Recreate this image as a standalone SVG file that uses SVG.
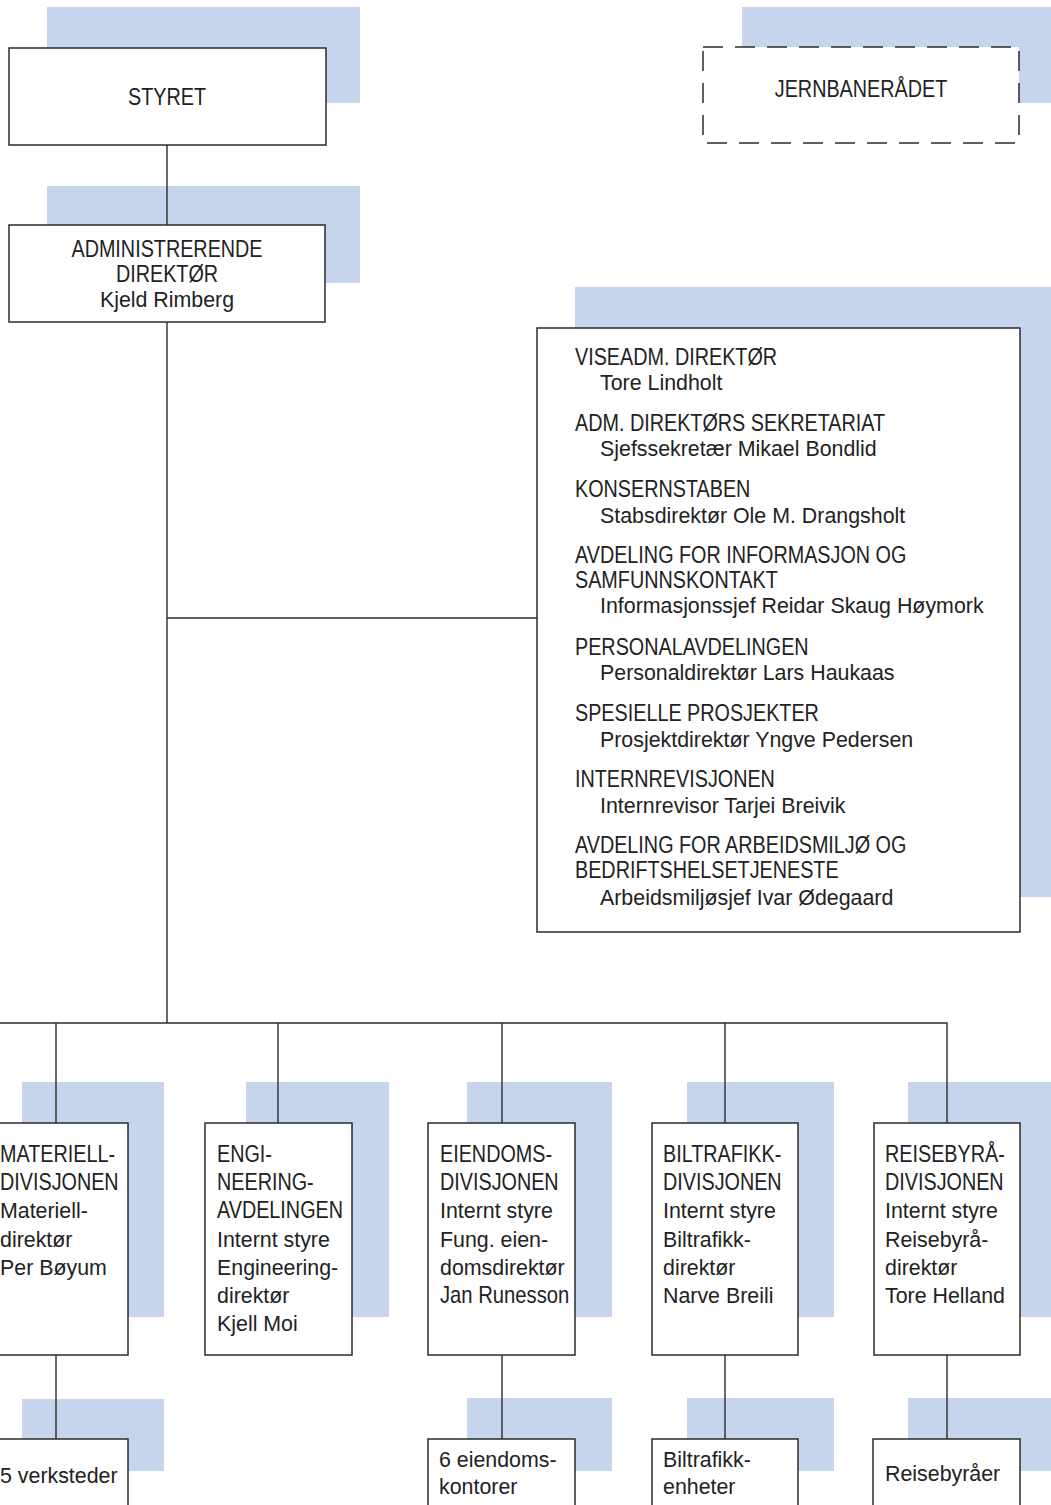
<svg xmlns="http://www.w3.org/2000/svg" width="1051" height="1505" viewBox="0 0 1051 1505">
<style>
.sh{fill:#c7d5ec}
.bx{fill:#fff;stroke:#2b2b2b;stroke-width:1.5}
.dash{fill:#fff;stroke:#2b2b2b;stroke-width:1.5;stroke-dasharray:20 12}
.t{font-family:"Liberation Sans",Arial,sans-serif;font-size:23px;fill:#222}
.m{text-anchor:middle}
.cn{stroke:#2b2b2b;stroke-width:1.4;fill:none}
</style>
<rect x="0" y="0" width="1051" height="1505" fill="#ffffff"/>
<g id="shadows">
<rect class="sh" x="47" y="7" width="313" height="96"/>
<rect class="sh" x="742" y="7" width="309" height="96"/>
<rect class="sh" x="47" y="186" width="313" height="97"/>
<rect class="sh" x="575" y="287" width="476" height="610"/>
<rect class="sh" x="22" y="1082" width="142" height="235"/>
<rect class="sh" x="246" y="1082" width="143" height="235"/>
<rect class="sh" x="467" y="1082" width="145" height="235"/>
<rect class="sh" x="687" y="1082" width="147" height="235"/>
<rect class="sh" x="908" y="1082" width="143" height="235"/>
<rect class="sh" x="22" y="1399" width="142" height="72"/>
<rect class="sh" x="467" y="1398" width="145" height="73"/>
<rect class="sh" x="687" y="1398" width="147" height="73"/>
<rect class="sh" x="908" y="1398" width="143" height="73"/>
</g>
<g id="styret">
<rect class="bx" x="9" y="48" width="317" height="97"/>
<text class="t m" transform="matrix(0.86 0 0 1 167 105)">STYRET</text>
</g>
<g id="jernbaneradet">
<rect class="dash" x="703" y="47" width="316" height="96"/>
<text class="t m" transform="matrix(0.86 0 0 1 861 97)">JERNBANERÅDET</text>
</g>
<g id="adm-dir">
<rect class="bx" x="9" y="225" width="316" height="97"/>
<text class="t m" transform="matrix(0.86 0 0 1 167 257)">ADMINISTRERENDE</text>
<text class="t m" transform="matrix(0.86 0 0 1 167 282)">DIREKTØR</text>
<text class="t m" transform="matrix(0.93 0 0 1 167 307)">Kjeld Rimberg</text>
</g>
<g id="stab">
<rect class="bx" x="537" y="328" width="483" height="604"/>
<text class="t" transform="matrix(0.86 0 0 1 575 365)">VISEADM. DIREKTØR</text>
<text class="t" transform="matrix(0.93 0 0 1 600 390)">Tore Lindholt</text>
<text class="t" transform="matrix(0.86 0 0 1 575 431)">ADM. DIREKTØRS SEKRETARIAT</text>
<text class="t" transform="matrix(0.93 0 0 1 600 456)">Sjefssekretær Mikael Bondlid</text>
<text class="t" transform="matrix(0.86 0 0 1 575 497)">KONSERNSTABEN</text>
<text class="t" transform="matrix(0.93 0 0 1 600 523)">Stabsdirektør Ole M. Drangsholt</text>
<text class="t" transform="matrix(0.86 0 0 1 575 563)">AVDELING FOR INFORMASJON OG</text>
<text class="t" transform="matrix(0.86 0 0 1 575 588)">SAMFUNNSKONTAKT</text>
<text class="t" transform="matrix(0.93 0 0 1 600 613)">Informasjonssjef Reidar Skaug Høymork</text>
<text class="t" transform="matrix(0.86 0 0 1 575 655)">PERSONALAVDELINGEN</text>
<text class="t" transform="matrix(0.93 0 0 1 600 680)">Personaldirektør Lars Haukaas</text>
<text class="t" transform="matrix(0.86 0 0 1 575 721)">SPESIELLE PROSJEKTER</text>
<text class="t" transform="matrix(0.93 0 0 1 600 747)">Prosjektdirektør Yngve Pedersen</text>
<text class="t" transform="matrix(0.86 0 0 1 575 787)">INTERNREVISJONEN</text>
<text class="t" transform="matrix(0.93 0 0 1 600 813)">Internrevisor Tarjei Breivik</text>
<text class="t" transform="matrix(0.86 0 0 1 575 853)">AVDELING FOR ARBEIDSMILJØ OG</text>
<text class="t" transform="matrix(0.86 0 0 1 575 878)">BEDRIFTSHELSETJENESTE</text>
<text class="t" transform="matrix(0.93 0 0 1 600 905)">Arbeidsmiljøsjef Ivar Ødegaard</text>
</g>
<g id="materiell">
<rect class="bx" x="-19" y="1123" width="147" height="232"/>
<text class="t" transform="matrix(0.86 0 0 1 0 1162)">MATERIELL-</text>
<text class="t" transform="matrix(0.86 0 0 1 0 1190)">DIVISJONEN</text>
<text class="t" transform="matrix(0.93 0 0 1 0 1218)">Materiell-</text>
<text class="t" transform="matrix(0.93 0 0 1 0 1247)">direktør</text>
<text class="t" transform="matrix(0.93 0 0 1 0 1275)">Per Bøyum</text>
</g>
<g id="engineering">
<rect class="bx" x="205" y="1123" width="147" height="232"/>
<text class="t" transform="matrix(0.86 0 0 1 217 1162)">ENGI-</text>
<text class="t" transform="matrix(0.86 0 0 1 217 1190)">NEERING-</text>
<text class="t" transform="matrix(0.86 0 0 1 217 1218)">AVDELINGEN</text>
<text class="t" transform="matrix(0.93 0 0 1 217 1247)">Internt styre</text>
<text class="t" transform="matrix(0.93 0 0 1 217 1275)">Engineering-</text>
<text class="t" transform="matrix(0.93 0 0 1 217 1303)">direktør</text>
<text class="t" transform="matrix(0.93 0 0 1 217 1331)">Kjell Moi</text>
</g>
<g id="eiendom">
<rect class="bx" x="428" y="1123" width="147" height="232"/>
<text class="t" transform="matrix(0.86 0 0 1 440 1162)">EIENDOMS-</text>
<text class="t" transform="matrix(0.86 0 0 1 440 1190)">DIVISJONEN</text>
<text class="t" transform="matrix(0.93 0 0 1 440 1218)">Internt styre</text>
<text class="t" transform="matrix(0.93 0 0 1 440 1247)">Fung. eien-</text>
<text class="t" transform="matrix(0.93 0 0 1 440 1275)">domsdirektør</text>
<text class="t" transform="matrix(0.88 0 0 1 440 1303)">Jan Runesson</text>
</g>
<g id="biltrafikk">
<rect class="bx" x="652" y="1123" width="146" height="232"/>
<text class="t" transform="matrix(0.86 0 0 1 663 1162)">BILTRAFIKK-</text>
<text class="t" transform="matrix(0.86 0 0 1 663 1190)">DIVISJONEN</text>
<text class="t" transform="matrix(0.93 0 0 1 663 1218)">Internt styre</text>
<text class="t" transform="matrix(0.93 0 0 1 663 1247)">Biltrafikk-</text>
<text class="t" transform="matrix(0.93 0 0 1 663 1275)">direktør</text>
<text class="t" transform="matrix(0.93 0 0 1 663 1303)">Narve Breili</text>
</g>
<g id="reisebyra">
<rect class="bx" x="874" y="1123" width="146" height="232"/>
<text class="t" transform="matrix(0.86 0 0 1 885 1162)">REISEBYRÅ-</text>
<text class="t" transform="matrix(0.86 0 0 1 885 1190)">DIVISJONEN</text>
<text class="t" transform="matrix(0.93 0 0 1 885 1218)">Internt styre</text>
<text class="t" transform="matrix(0.93 0 0 1 885 1247)">Reisebyrå-</text>
<text class="t" transform="matrix(0.93 0 0 1 885 1275)">direktør</text>
<text class="t" transform="matrix(0.93 0 0 1 885 1303)">Tore Helland</text>
</g>
<g id="verksteder">
<rect class="bx" x="-19" y="1439" width="147" height="80"/>
<text class="t" transform="matrix(0.93 0 0 1 0 1483)">5 verksteder</text>
</g>
<g id="eiendomskontorer">
<rect class="bx" x="428" y="1439" width="147" height="80"/>
<text class="t" transform="matrix(0.93 0 0 1 439 1467)">6 eiendoms-</text>
<text class="t" transform="matrix(0.93 0 0 1 439 1494)">kontorer</text>
</g>
<g id="biltrafikkenheter">
<rect class="bx" x="652" y="1439" width="146" height="80"/>
<text class="t" transform="matrix(0.93 0 0 1 663 1467)">Biltrafikk-</text>
<text class="t" transform="matrix(0.93 0 0 1 663 1494)">enheter</text>
</g>
<g id="reisebyraer">
<rect class="bx" x="873" y="1439" width="147" height="80"/>
<text class="t" transform="matrix(0.93 0 0 1 885 1481)">Reisebyråer</text>
</g>
<g id="connectors" class="cn">
<line x1="167" y1="145" x2="167" y2="225"/>
<line x1="167" y1="322" x2="167" y2="1023"/>
<line x1="167" y1="618" x2="537" y2="618"/>
<polyline points="0,1023 947,1023 947,1123"/>
<line x1="56" y1="1023" x2="56" y2="1123"/>
<line x1="278" y1="1023" x2="278" y2="1123"/>
<line x1="502" y1="1023" x2="502" y2="1123"/>
<line x1="725" y1="1023" x2="725" y2="1123"/>
<line x1="56" y1="1355" x2="56" y2="1439"/>
<line x1="502" y1="1355" x2="502" y2="1439"/>
<line x1="725" y1="1355" x2="725" y2="1439"/>
<line x1="947" y1="1355" x2="947" y2="1439"/>
</g>
</svg>
